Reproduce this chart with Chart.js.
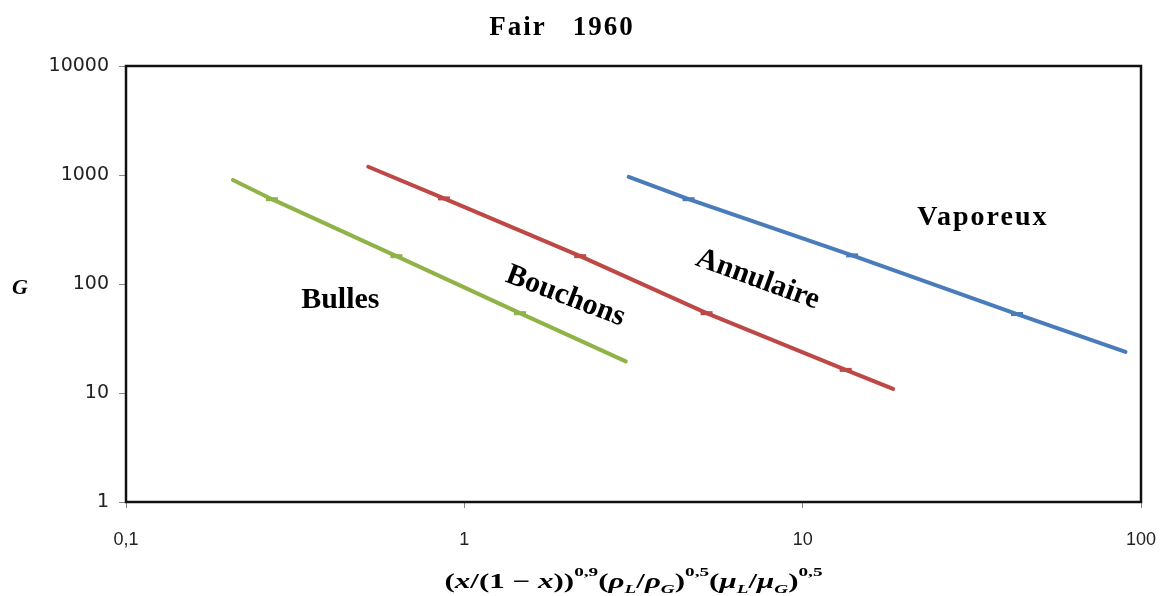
<!DOCTYPE html>
<html>
<head>
<meta charset="utf-8">
<title>Fair 1960</title>
<script src="https://cdn.jsdelivr.net/npm/chart.js@4.4.1/dist/chart.umd.min.js"></script>
<style>
  html, body { margin: 0; padding: 0; background: #fff; }
  #wrap { width: 1165px; height: 596px; }
</style>
</head>
<body>
<div id="wrap"><canvas id="fairChart" width="1165" height="596"></canvas></div>
<script>
// axis ticks (log decades)
const xTickValues = [0.1, 1, 10, 100];
const xTickLabels = ['0,1', '1', '10', '100'];
const yTickValues = [1, 10, 100, 1000, 10000];
const yTickLabels = ['1', '10', '100', '1000', '10000'];

// regime boundaries : X parameter vs G
const bullesX = [0.207, 0.27, 0.63, 1.46, 3.0];
const bullesG = [900, 600, 180, 54, 19.5];
const bouchonsX = [0.52, 0.87, 2.2, 5.2, 13.4, 18.5];
const bouchonsG = [1190, 610, 180, 54, 16.3, 10.9];
const annulaireX = [3.06, 4.6, 14.0, 43.0, 90.0];
const annulaireG = [960, 600, 183, 53, 23.8];

// flow regime names and where they sit
const regionNames = ['Bulles', 'Bouchons', 'Annulaire', 'Vaporeux'];
const regionX = [0.43, 1.99, 7.36, 34.1];
const regionG = [71, 77, 110, 403];

function toPoints(xs, ys) {
    return xs.map((v, i) => ({ x: v, y: ys[i] }));
}

function lineSet(xs, ys, color) {
    return {
        data: toPoints(xs, ys),
        borderColor: color,
        backgroundColor: color,
        borderWidth: 4,
        pointStyle: 'line',
        // dash markers only on the inner points
        pointRadius: (c) => (c.dataIndex === 0 || c.dataIndex === xs.length - 1) ? 0 : 6,
        pointBorderWidth: 4,
        pointHoverRadius: 0,
        borderCapStyle: 'round',
        tension: 0
    };
}

// frame, title and annotations
const decor = {
    id: 'decor',
    afterDraw(chart) {
        const { ctx, chartArea: a, scales: { x, y } } = chart;
        ctx.save();

        ctx.strokeStyle = '#111';
        ctx.lineWidth = 2.5;
        ctx.strokeRect(a.left, a.top, a.right - a.left, a.bottom - a.top);

        ctx.fillStyle = '#000';
        ctx.textAlign = 'center';
        ctx.textBaseline = 'middle';
        ctx.font = 'bold 27px "Liberation Serif"';
        ctx.letterSpacing = '2px';
        ctx.fillText('Fair   1960', 562, 28);
        ctx.letterSpacing = '0px';

        ctx.font = 'bold italic 22px "Liberation Serif"';
        ctx.fillText('G', 20, 288);

        const angles = [0, 21, 20, 0];
        const spacing = ['0px', '0px', '0px', '2px'];
        const sizes = [30, 30, 30, 28];
        regionNames.forEach((name, i) => {
            ctx.save();
            ctx.translate(x.getPixelForValue(regionX[i]), y.getPixelForValue(regionG[i]));
            ctx.rotate(angles[i] * Math.PI / 180);
            ctx.font = 'bold ' + sizes[i] + 'px "Liberation Serif"';
            ctx.letterSpacing = spacing[i];
            ctx.fillText(name, 0, 0);
            ctx.restore();
        });

        drawMathTitle(ctx, (a.left + a.right) / 2, 588);
        ctx.restore();
    }
};

// (x/(1-x))^0,9 (rhoL/rhoG)^0,5 (muL/muG)^0,5
function drawMathTitle(ctx, cx, base) {
    const up = 'bold 21px "Liberation Serif"';
    const it = 'bold italic 21px "Liberation Serif"';
    const sm = 'bold 13px "Liberation Serif"';
    const smi = 'bold italic 13px "Liberation Serif"';
    const runs = [
        ['(', up, 0], ['x', it, 0], ['/', up, 0], ['(', up, 0], ['1 \u2212 ', up, 0], ['x', it, 0], [')', up, 0], [')', up, 0], ['0,9', sm, -12],
        ['(', up, 0], ['\u03c1', it, 0], ['L', smi, 5], ['/', up, 0], ['\u03c1', it, 0], ['G', smi, 5], [')', up, 0], ['0,5', sm, -12],
        ['(', up, 0], ['\u03bc', it, 0], ['L', smi, 5], ['/', up, 0], ['\u03bc', it, 0], ['G', smi, 5], [')', up, 0], ['0,5', sm, -12]
    ];
    let total = 0;
    runs.forEach(r => { ctx.font = r[1]; total += ctx.measureText(r[0]).width; });
    // narrow math face: squeeze to the usual width
    const sx = 378 / total;
    ctx.save();
    ctx.translate(cx - 189, base);
    ctx.scale(sx, 1);
    ctx.textAlign = 'left';
    ctx.textBaseline = 'alphabetic';
    let pos = 0;
    runs.forEach(r => {
        ctx.font = r[1];
        ctx.fillText(r[0], pos, r[2]);
        pos += ctx.measureText(r[0]).width;
    });
    ctx.restore();
}

const ctx = document.getElementById('fairChart').getContext('2d');
const fairChart = new Chart(ctx, {
    type: 'line',
    data: {
        datasets: [
            lineSet(bullesX, bullesG, '#8fb347'),
            lineSet(bouchonsX, bouchonsG, '#bd4845'),
            lineSet(annulaireX, annulaireG, '#4a7cba')
        ]
    },
    options: {
        responsive: false,
        animation: false,
        events: [],
        layout: { padding: { left: 0, right: 24, top: 66, bottom: 0 } },
        plugins: {
            legend: { display: false },
            title: { display: false },
            tooltip: { enabled: false }
        },
        scales: {
            x: {
                type: 'logarithmic',
                min: 0.1,
                max: 100,
                afterBuildTicks: (s) => { s.ticks = xTickValues.map(v => ({ value: v })); },
                afterFit: (s) => { s.height = 94; s.paddingLeft = 0; s.paddingRight = 0; },
                ticks: {
                    autoSkip: false,
                    maxRotation: 0,
                    padding: 21,
                    color: '#222',
                    font: { family: '"Liberation Sans"', size: 18 },
                    callback: (v, i) => xTickLabels[i]
                },
                grid: { drawOnChartArea: false, tickLength: 6, color: '#8a8a8a' },
                border: { display: false }
            },
            y: {
                type: 'logarithmic',
                min: 1,
                max: 10000,
                afterBuildTicks: (s) => { s.ticks = yTickValues.map(v => ({ value: v })); },
                afterFit: (s) => { s.width = 126; s.paddingTop = 0; s.paddingBottom = 0; },
                ticks: {
                    autoSkip: false,
                    padding: 10,
                    color: '#222',
                    font: { family: '"DejaVu Sans"', size: 19 },
                    callback: (v, i) => yTickLabels[i]
                },
                grid: { drawOnChartArea: false, tickLength: 7, color: '#8a8a8a' },
                border: { display: false }
            }
        }
    },
    plugins: [decor]
});
</script>
</body>
</html>
